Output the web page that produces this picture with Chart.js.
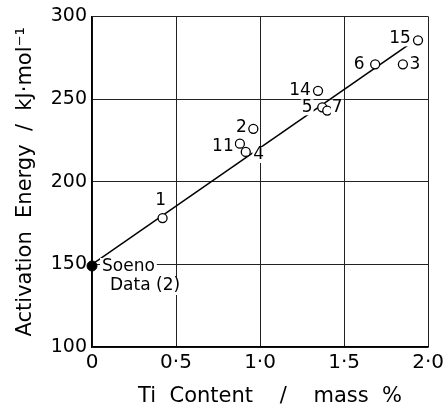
<!DOCTYPE html>
<html lang="en">
<head>
  <meta charset="UTF-8" />
  <title>Activation energy vs Ti content</title>
  <script src="https://cdn.jsdelivr.net/npm/chart.js"></script>
  <style>
    body {
      margin: 0;
      background-color: #ffffff;
    }
    .wrap {
      width: 448px;
      height: 407px;
    }
  </style>
</head>
<body>
  <div class="wrap">
    <canvas id="chart" width="448" height="407"></canvas>
  </div>

  <script>
    // sample numbers and measured values
    const sampleIds = ['1', '2', '3', '4', '5', '6', '7', '11', '14', '15'];
    const tiContent = [0.42, 0.96, 1.85, 0.915, 1.37, 1.685, 1.40, 0.88, 1.345, 1.94];
    const activation = [178, 232, 271, 218, 245, 271, 243, 223, 255, 285.5];

    // Soeno's point and the fitted line
    const soenoX = [0];
    const soenoY = [149];
    const fitX = [0, 1.9];
    const fitY = [150, 284];

    const xTickLabels = ['0', '0·5', '1·0', '1·5', '2·0'];
    const yTickLabels = ['100', '150', '200', '250', '300'];

    const FONT = 'DejaVu Sans, sans-serif';

    function toPoints(xs, ys) {
      return xs.map((x, i) => ({ x: x, y: ys[i] }));
    }

    // where each sample label sits relative to its circle (pixels)
    const labelOffsets = {
      '1': [-2, -17], '2': [-12, -1], '3': [12, 0], '4': [13, 3], '5': [-15, 0],
      '6': [-16, 0], '7': [10, -3], '11': [-17, 3], '14': [-18, 0], '15': [-18, -2]
    };

    const labelPlugin = {
      id: 'sampleLabels',
      afterDatasetsDraw(chart) {
        const ctx = chart.ctx;
        const xs = chart.scales.x, ys = chart.scales.y;
        ctx.save();
        ctx.font = '17px ' + FONT;
        ctx.textBaseline = 'middle';
        ctx.textAlign = 'center';
        sampleIds.forEach((id, i) => {
          const off = labelOffsets[id];
          const px = xs.getPixelForValue(tiContent[i]) + off[0];
          const py = ys.getPixelForValue(activation[i]) + off[1];
          const w = ctx.measureText(id).width;
          ctx.fillStyle = '#ffffff';
          ctx.fillRect(px - w / 2 - 1, py - 8, w + 2, 16);
          ctx.fillStyle = '#000000';
          ctx.fillText(id, px, py);
        });
        // Soeno note
        const sx = xs.getPixelForValue(soenoX[0]);
        const sy = ys.getPixelForValue(soenoY[0]);
        ctx.textAlign = 'left';
        const lines = [['Soeno', 10, 1], ['Data (2)', 18, 20]];
        lines.forEach(l => {
          const w = ctx.measureText(l[0]).width;
          ctx.fillStyle = '#ffffff';
          ctx.fillRect(sx + l[1] - 2, sy + l[2] - 9, w + 4, 18);
          ctx.fillStyle = '#000000';
          ctx.fillText(l[0], sx + l[1], sy + l[2]);
        });
        ctx.restore();
      }
    };

    const ctx = document.getElementById('chart').getContext('2d');
    new Chart(ctx, {
      type: 'scatter',
      data: {
        datasets: [
          {
            label: 'Soeno',
            data: toPoints(soenoX, soenoY),
            pointRadius: 5,
            pointBackgroundColor: '#000000',
            pointBorderColor: '#000000',
            clip: false,
            order: 0
          },
          {
            label: 'Samples',
            data: toPoints(tiContent, activation),
            pointRadius: 4.5,
            pointBorderWidth: 1.3,
            pointBackgroundColor: '#ffffff',
            pointBorderColor: '#000000',
            order: 1
          },
          {
            label: 'Fit',
            data: toPoints(fitX, fitY),
            showLine: true,
            borderColor: '#000000',
            borderWidth: 1.6,
            pointRadius: 0,
            order: 2
          }
        ]
      },
      options: {
        responsive: false,
        animation: false,
        layout: { padding: { top: 15, right: 18, left: 0, bottom: 0 } },
        plugins: {
          legend: { display: false },
          tooltip: { enabled: false }
        },
        scales: {
          x: {
            type: 'linear',
            min: 0,
            max: 2,
            afterFit(scale) { scale.height = 60; },
            afterBuildTicks(scale) {
              scale.ticks = xTickLabels.map((t, i) => ({ value: i * 0.5 }));
            },
            ticks: {
              color: '#000000',
              font: { family: FONT, size: 20 },
              padding: 4,
              maxRotation: 0,
              callback: (v, i) => xTickLabels[i]
            },
            grid: { color: '#222222', lineWidth: 1, drawTicks: false },
            border: { color: '#000000', width: 1.5 },
            title: {
              display: true,
              text: '   Ti  Content    /    mass  %',
              color: '#000000',
              font: { family: FONT, size: 21, lineHeight: 1 },
              padding: { top: 0, bottom: 0 }
            }
          },
          y: {
            type: 'linear',
            min: 100,
            max: 300,
            afterFit(scale) { scale.width = 92; },
            afterBuildTicks(scale) {
              scale.ticks = yTickLabels.map(t => ({ value: Number(t) }));
            },
            ticks: {
              color: '#000000',
              font: { family: FONT, size: 19 },
              padding: 5,
              callback: (v, i) => yTickLabels[i]
            },
            grid: { color: '#222222', lineWidth: 1, drawTicks: false },
            border: { color: '#000000', width: 1.5 },
            title: {
              display: true,
              text: 'Activation  Energy  /  kJ·mol⁻¹',
              color: '#000000',
              font: { family: FONT, size: 21, lineHeight: 1 },
              padding: { top: 15, bottom: 0 }
            }
          }
        }
      },
      plugins: [labelPlugin]
    });
  </script>
</body>
</html>
